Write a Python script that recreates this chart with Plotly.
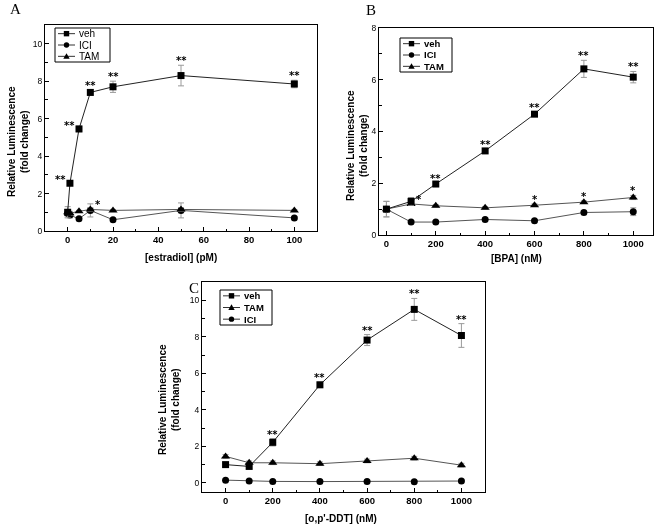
import plotly.graph_objects as go

W, H = 661, 526

# ---------------- data ----------------
# Panel A: estradiol (pM)
A_x = [0, 1, 5, 10, 20, 50, 100]
A_veh = [1.0, 2.55, 5.45, 7.4, 7.7, 8.3, 7.85]
A_veh_err = [0.3, 0.1, 0.15, 0.15, 0.3, 0.55, 0.2]
A_ici = [0.95, 0.85, 0.65, 1.1, 0.6, 1.1, 0.7]
A_ici_err = [0.2, 0.15, 0.05, 0.35, 0.05, 0.4, 0.05]
A_tam = [1.0, 0.95, 1.05, 1.15, 1.1, 1.15, 1.1]
A_tam_err = [0.1, 0.1, 0.05, 0.1, 0.05, 0.1, 0.05]
A_veh_sig = ["", "**", "**", "**", "**", "**", "**"]
A_tam_sig = ["", "", "", "*", "", "", ""]

# Panel B: BPA (nM)
B_x = [0, 100, 200, 400, 600, 800, 1000]
B_veh = [1.0, 1.3, 1.97, 3.25, 4.67, 6.42, 6.1]
B_veh_err = [0.3, 0.15, 0.05, 0.08, 0.08, 0.33, 0.22]
B_ici = [1.0, 0.5, 0.5, 0.6, 0.55, 0.87, 0.9]
B_ici_err = [0.3, 0.05, 0.05, 0.05, 0.05, 0.08, 0.15]
B_tam = [1.0, 1.2, 1.13, 1.05, 1.15, 1.27, 1.45]
B_tam_err = [0.1, 0.05, 0.05, 0.05, 0.05, 0.05, 0.08]
B_veh_sig = ["", "", "**", "**", "**", "**", "**"]
B_tam_sig = ["", "*", "", "", "*", "*", "*"]

# Panel C: o,p'-DDT (nM)
C_x = [0, 100, 200, 400, 600, 800, 1000]
C_veh = [1.0, 0.9, 2.22, 5.37, 7.82, 9.5, 8.07]
C_veh_err = [0.1, 0.1, 0.2, 0.15, 0.3, 0.6, 0.65]
C_tam = [1.45, 1.1, 1.1, 1.05, 1.2, 1.35, 0.97]
C_tam_err = [0.1, 0.1, 0.1, 0.1, 0.1, 0.1, 0.1]
C_ici = [0.15, 0.1, 0.08, 0.07, 0.08, 0.06, 0.1]
C_ici_err = [0.05, 0.05, 0.05, 0.05, 0.05, 0.05, 0.05]
C_veh_sig = ["", "", "**", "**", "**", "**", "**"]

A_xticks = [0, 20, 40, 60, 80, 100]
BC_xticks = [0, 200, 400, 600, 800, 1000]
A_yticks = [0, 2, 4, 6, 8, 10]
B_yticks = [0, 2, 4, 6, 8]
C_yticks = [0, 2, 4, 6, 8, 10]

# ---------------- helpers ----------------
def px(x):
    return x / W

def py(y):
    return 1 - y / H

FONT = "Liberation Sans"
fig = go.Figure()

STYLE = {
    "veh": dict(symbol="square", size=7, line="#222222"),
    "ICI": dict(symbol="circle", size=7, line="#555555"),
    "TAM": dict(symbol="triangle-up", size=8, line="#555555"),
}


def add_series(name, x, y, err, xa, ya):
    s = STYLE[name]
    fig.add_trace(go.Scatter(
        x=x, y=y, mode="lines+markers", name=name, showlegend=False,
        xaxis=xa, yaxis=ya, hoverinfo="skip",
        line=dict(color=s["line"], width=1),
        marker=dict(symbol=s["symbol"], size=s["size"], color="black"),
        error_y=dict(type="data", array=err, color="#9a9a9a", thickness=1, width=3),
    ))


annotations = []
shapes = []
STAR_FONT = dict(family="DejaVu Sans", size=10, color="black", weight="bold")


def add_sig(x, y, err, labels, xa, ya, modes=None):
    for i, (xv, yv, ev, lab) in enumerate(zip(x, y, err, labels)):
        if not lab:
            continue
        mode = modes[i] if modes else "above"
        base = dict(x=xv, xref=xa, yref=ya, text=lab, showarrow=False, font=STAR_FONT)
        if mode == "above":
            base.update(y=yv + ev, yanchor="bottom", xanchor="center", yshift=-3)
        elif mode == "left":
            base.update(y=yv, yanchor="bottom", xanchor="right", xshift=-2, yshift=-4)
        else:
            base.update(y=yv, yanchor="bottom", xanchor="left", xshift=3, yshift=-3)
        annotations.append(base)


def add_legend(entries, x0, y0, x1, y1, bold):
    shapes.append(dict(type="rect", xref="paper", yref="paper",
                       x0=px(x0), x1=px(x1), y0=py(y0), y1=py(y1),
                       line=dict(color="black", width=1)))
    n = len(entries)
    step = (y1 - y0) / n
    for k, name in enumerate(entries):
        yc = y0 + step * (k + 0.5)
        lx0, lx1 = x0 + 3, x0 + 20
        mx = (lx0 + lx1) / 2
        shapes.append(dict(type="line", xref="paper", yref="paper",
                           x0=px(lx0), x1=px(lx1), y0=py(yc), y1=py(yc),
                           line=dict(color="#333333", width=1)))
        r = 2.7
        if name == "veh":
            shapes.append(dict(type="rect", xref="paper", yref="paper",
                               x0=px(mx - r), x1=px(mx + r), y0=py(yc - r), y1=py(yc + r),
                               fillcolor="black", line=dict(width=0)))
        elif name == "ICI":
            shapes.append(dict(type="circle", xref="paper", yref="paper",
                               x0=px(mx - r), x1=px(mx + r), y0=py(yc - r), y1=py(yc + r),
                               fillcolor="black", line=dict(width=0)))
        else:
            path = "M {:.5f},{:.5f} L {:.5f},{:.5f} L {:.5f},{:.5f} Z".format(
                px(mx), py(yc - 3.2), px(mx - 3.2), py(yc + 2.4), px(mx + 3.2), py(yc + 2.4))
            shapes.append(dict(type="path", xref="paper", yref="paper", path=path,
                               fillcolor="black", line=dict(width=0)))
        annotations.append(dict(x=px(lx1 + 2), y=py(yc), xref="paper", yref="paper",
                                xanchor="left", yanchor="middle", showarrow=False,
                                text=name,
                                font=dict(family=FONT, size=10 if not bold else 9.5,
                                          color="black", weight="bold" if bold else "normal")))


# ---------------- traces ----------------
add_series("ICI", A_x, A_ici, A_ici_err, "x", "y")
add_series("TAM", A_x, A_tam, A_tam_err, "x", "y")
add_series("veh", A_x, A_veh, A_veh_err, "x", "y")

add_series("ICI", B_x, B_ici, B_ici_err, "x2", "y2")
add_series("TAM", B_x, B_tam, B_tam_err, "x2", "y2")
add_series("veh", B_x, B_veh, B_veh_err, "x2", "y2")

add_series("ICI", C_x, C_ici, C_ici_err, "x3", "y3")
add_series("TAM", C_x, C_tam, C_tam_err, "x3", "y3")
add_series("veh", C_x, C_veh, C_veh_err, "x3", "y3")

# significance marks
add_sig(A_x, A_veh, A_veh_err, A_veh_sig, "x", "y",
        modes=["", "left", "left", "above", "above", "above", "above"])
add_sig(A_x, A_tam, A_tam_err, A_tam_sig, "x", "y", modes=["right"] * 7)
add_sig(B_x, B_veh, B_veh_err, B_veh_sig, "x2", "y2")
add_sig(B_x, B_tam, B_tam_err, B_tam_sig, "x2", "y2",
        modes=["", "right", "", "", "above", "above", "above"])
add_sig(C_x, C_veh, C_veh_err, C_veh_sig, "x3", "y3")

# legends
add_legend(["veh", "ICI", "TAM"], 55, 28, 110, 62, bold=False)
add_legend(["veh", "ICI", "TAM"], 400, 38, 452, 72, bold=True)
add_legend(["veh", "TAM", "ICI"], 220, 290, 272, 325, bold=True)

# axis titles & panel letters
ytitle = "Relative Luminescence<br>(fold change)"
for (xc, yc) in [(18, 142), (357, 145), (169, 400)]:
    annotations.append(dict(x=px(xc), y=py(yc), xref="paper", yref="paper",
                            text=ytitle, textangle=-90, showarrow=False,
                            xanchor="center", yanchor="middle",
                            font=dict(family=FONT, size=10, color="black", weight="bold")))
for (txt, xc, yc) in [("[estradiol] (pM)", 181, 257), ("[BPA] (nM)", 516, 258),
                      ("[o,p'-DDT] (nM)", 341, 518)]:
    annotations.append(dict(x=px(xc), y=py(yc), xref="paper", yref="paper",
                            text=txt, showarrow=False, xanchor="center", yanchor="middle",
                            font=dict(family=FONT, size=10, color="black", weight="bold")))
for (txt, xc, yc) in [("A", 15, 9), ("B", 371, 10), ("C", 194, 288)]:
    annotations.append(dict(x=px(xc), y=py(yc), xref="paper", yref="paper",
                            text=txt, showarrow=False, xanchor="center", yanchor="middle",
                            font=dict(family="Liberation Serif", size=15, color="black")))


def xaxis(domain, rng, tickvals, minor, anchor):
    return dict(domain=domain, range=rng, tickmode="array", tickvals=tickvals,
                anchor=anchor, automargin=False, fixedrange=True,
                ticks="inside", ticklen=4, tickwidth=1, tickcolor="black",
                minor=dict(ticks="inside", ticklen=2.5, dtick=minor, tick0=0, tickcolor="black"),
                showline=True, mirror=True, linecolor="black", linewidth=1,
                showgrid=False, zeroline=False,
                tickfont=dict(family=FONT, size=9.5, color="black", weight="bold"))


def yaxis(domain, rng, tickvals, anchor):
    return dict(domain=domain, range=rng, tickmode="array", tickvals=tickvals,
                anchor=anchor, automargin=False, fixedrange=True,
                ticks="inside", ticklen=4, tickwidth=1, tickcolor="black",
                minor=dict(ticks="inside", ticklen=2.5, dtick=1, tick0=0, tickcolor="black"),
                showline=True, mirror=True, linecolor="black", linewidth=1,
                showgrid=False, zeroline=False,
                tickfont=dict(family=FONT, size=8.5, color="black"))


fig.update_layout(
    width=W, height=H, margin=dict(l=0, r=0, t=0, b=0, autoexpand=False),
    paper_bgcolor="white", plot_bgcolor="white", showlegend=False,
    hovermode=False,
    xaxis=xaxis([px(45), px(317)], [-10, 110], A_xticks, 10, "y"),
    yaxis=yaxis([py(231), py(25)], [0, 11], A_yticks, "x"),
    xaxis2=xaxis([px(379), px(653)], [-30, 1080], BC_xticks, 100, "y2"),
    yaxis2=yaxis([py(235), py(28)], [0, 8], B_yticks, "x2"),
    xaxis3=xaxis([px(202), px(485)], [-100, 1100], BC_xticks, 100, "y3"),
    yaxis3=yaxis([py(492), py(282)], [-0.5, 11], C_yticks, "x3"),
    annotations=annotations, shapes=shapes,
    font=dict(family=FONT, color="black"),
)

fig.write_html(
    "out.html",
    config={"displayModeBar": False, "staticPlot": True},
    post_script=(
        "document.body.style.margin='0';document.body.style.overflow='hidden';"
        "document.querySelectorAll('.main-svg').forEach(function(s){s.style.willChange='transform';});"
    ),
)
